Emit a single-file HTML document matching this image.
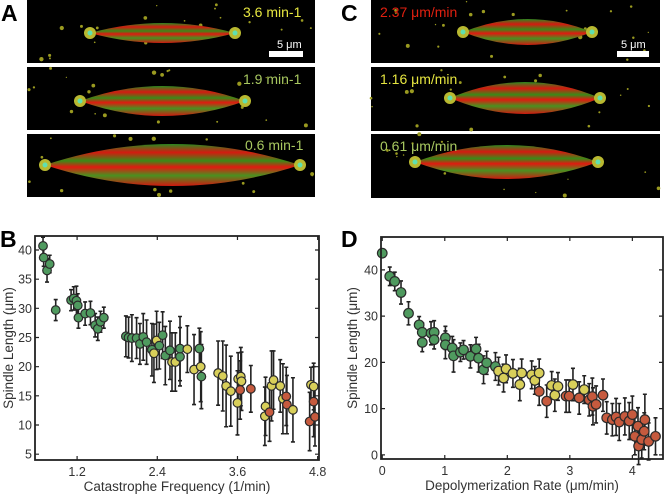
<!DOCTYPE html>
<html><head><meta charset="utf-8"><style>
body{margin:0;background:#fff;}
svg{display:block;font-family:"Liberation Sans",sans-serif;}
</style></head><body>
<svg id="fig" width="664" height="497" viewBox="0 0 664 497">
<defs>
<linearGradient id="sp" x1="0" y1="0" x2="0" y2="1">
<stop offset="0" stop-color="#2a8a20"/><stop offset="0.2" stop-color="#d41a10"/><stop offset="0.4" stop-color="#3a8a18"/><stop offset="0.55" stop-color="#e01a10"/><stop offset="0.75" stop-color="#4a9020"/><stop offset="1" stop-color="#d01810"/>
</linearGradient>
</defs>
<g>
<rect x="27" y="0" width="288" height="63" fill="#000"/>
<rect x="27" y="67" width="288" height="63" fill="#000"/>
<rect x="27" y="134" width="288" height="63" fill="#000"/>
</g>
<g>
<rect x="371" y="0" width="289" height="63" fill="#000"/>
<rect x="371" y="67" width="289" height="64" fill="#000"/>
<rect x="371" y="134" width="289" height="64" fill="#000"/>
</g>
<g id="specks"></g>
<g id="spindles"></g>
<g font-size="14">
<text x="243" y="17" fill="#e6e640">3.6 min-1</text>
<text x="243" y="84" fill="#a8c860">1.9 min-1</text>
<text x="245" y="150" fill="#a8c860">0.6 min-1</text>
<text x="380" y="17" fill="#e02010">2.37 μm/min</text>
<text x="380" y="84" fill="#e6e640">1.16 μm/min</text>
<text x="380" y="151" fill="#a8c860">0.61 μm/min</text>
<text x="277" y="48" fill="#fff" font-size="11">5 μm</text>
<rect x="269" y="51" width="34" height="6" fill="#fff"/>
<text x="621" y="48" fill="#fff" font-size="11">5 μm</text>
<rect x="617" y="51" width="32" height="6" fill="#fff"/>
</g>
<g font-weight="bold" font-size="23" fill="#000">
<text x="1" y="21">A</text>
<text x="341" y="21">C</text>
<text x="0" y="247">B</text>
<text x="341" y="247">D</text>
</g>
<g id="chartB"></g>
<g id="chartD"></g>
</svg>
<script>
// Panel B data
const bX=[0.69,0.70,0.75,0.79,0.88,1.11,1.15,1.19,1.21,1.22,1.32,1.40,1.47,1.51,1.55,1.60,1.93,1.97,2.02,2.09,2.14,2.19,2.24,2.32,2.35,2.39,2.43,2.48,2.52,2.59,2.62,2.67,2.74,2.74,2.85,2.95,3.03,3.05,3.06,3.31,3.38,3.43,3.50,3.60,3.61,3.64,3.65,3.66,3.80,4.01,4.02,4.08,4.11,4.14,4.24,4.28,4.33,4.34,4.43,4.68,4.70,4.74,4.74,4.76];
const bY=[40.7,38.7,36.5,37.6,29.7,31.4,31.7,31.3,30.5,28.4,29.1,29.2,27.1,26.5,27.7,28.4,25.2,25.0,24.9,24.9,23.9,25.1,24.2,22.9,22.3,24.5,23.6,25.4,21.9,22.8,20.8,20.8,21.7,23.1,23.0,19.5,23.1,20.0,18.3,18.9,18.4,16.7,15.8,13.8,17.9,16.0,18.3,17.5,16.2,11.5,13.2,12.2,16.7,17.7,16.7,14.5,14.9,13.5,12.6,10.6,16.9,16.6,14.0,11.4];
const bErr=[1.5,1.5,2,1.5,1.8,1.8,2,2.5,2,1.8,2,2,2,2,1.8,1.8,3.5,3.5,4,3.5,3.5,4,3.8,4.5,5,5,4,4,5,5,5,5,5,5.5,4,6,3.5,6,5.5,5.5,6,7,6,5.5,4.5,5,5,5,4,5,5,5,6,5,4.5,6,5,5,5.5,5,3,4,6,5];
const bC=["g","g","g","g","g","g","g","g","g","g","g","g","g","g","g","g","g","g","g","g","g","g","g","g","y","y","g","g","g","g","y","y","g","g","y","y","g","y","g","y","y","y","y","y","y","r","y","y","r","y","y","r","y","y","y","y","r","r","y","r","y","y","r","r"];
const bXTicks=[1.2,2.4,3.6,4.8];
const bYTicks=[5,10,15,20,25,30,35,40];
// Panel D data
const dX=[0,0.12,0.2,0.3,0.42,0.59,0.64,0.64,0.78,0.83,0.83,1.01,1.01,1.12,1.14,1.25,1.3,1.41,1.5,1.54,1.62,1.67,1.81,1.86,1.94,1.98,2.09,2.2,2.23,2.39,2.44,2.51,2.51,2.63,2.71,2.76,2.81,2.94,2.99,3.05,3.15,3.23,3.31,3.36,3.37,3.42,3.53,3.59,3.68,3.74,3.79,3.88,3.95,4.0,4.04,4.09,4.1,4.15,4.19,4.2,4.26,4.37];
const dY=[43.6,38.6,37.5,35.1,30.6,28.1,26.5,24.3,26.3,26.5,24.9,25.3,23.8,23.1,21.4,22.2,22.7,21.3,22.9,20.9,18.4,19.9,19.1,18.1,16.6,18.6,17.6,15.2,17.7,17.3,16.1,17.7,13.7,11.6,15.0,12.9,14.8,12.7,12.7,15.2,12.3,14.1,11.9,12.6,10.5,10.9,12.9,8.0,7.6,8.2,7.1,8.3,7.3,8.7,4.0,6.2,1.9,3.3,5.1,7.6,2.9,4.0];
const dErr=[0,2,2,2.5,2.5,1.8,2,2,2.5,2.5,2,2.5,3,2.5,3.5,2,2,2.5,2.5,3,3,2.5,3,3,3,3,3,3.5,3,3,3,3,3,3.5,3,3.5,3,3.5,3.5,3.5,3.5,3,3.5,4,4,4,3.5,3.5,3.5,4,4,4,4,4,4,4,4,4,4,5.5,4,4];
const dC=["g","g","g","g","g","g","g","g","g","g","g","g","g","g","g","g","g","g","g","g","g","g","g","y","y","y","y","y","y","y","y","y","r","r","y","y","y","r","r","y","r","y","r","r","r","r","r","r","r","r","r","r","r","r","r","r","r","r","r","r","r","r"];
const dXTicks=[0,1,2,3,4];
const dYTicks=[0,10,20,30,40];

const NS="http://www.w3.org/2000/svg";
const FILL={g:"#4f9a5f",y:"#d8cf5a",r:"#c65a3e"};
function mk(p,tag,a){const e=document.createElementNS(NS,tag);for(const k in a)e.setAttribute(k,a[k]);p.appendChild(e);return e;}

function chart(g,box,xd,yd,X,Y,E,C,xt,yt,xlab,ylab,r,ytx){
  const sx=v=>box.l+(v-xd[0])/(xd[1]-xd[0])*(box.r-box.l);
  const sy=v=>box.b-(v-yd[0])/(yd[1]-yd[0])*(box.b-box.t);
  for(let i=0;i<X.length;i++){
    const x=sx(X[i]);
    if(E[i]>0){
      const y1=sy(Y[i]+E[i]),y2=sy(Y[i]-E[i]);
      const eb=mk(g,"path",{d:`M${x},${y1}V${y2}M${x-2},${y1}H${x+2}M${x-2},${y2}H${x+2}`,stroke:"#222","stroke-width":1.6,fill:"none"});
      
      
    }
  }
  for(let i=0;i<X.length;i++){
    const c=mk(g,"circle",{cx:sx(X[i]),cy:sy(Y[i]),r:r,fill:FILL[C[i]],stroke:"#2a2a2a","stroke-width":1.2});
    
    
  }
  const fr=mk(g,"rect",{x:box.l,y:box.t,width:box.r-box.l,height:box.b-box.t,fill:"none",stroke:"#222","stroke-width":1.8});
  
  
  xt.forEach(v=>{
    const x=sx(v);
    mk(g,"path",{d:`M${x},${box.b}v-4M${x},${box.t}v4`,stroke:"#222","stroke-width":1.2});
    const t=mk(g,"text",{x:x,y:box.b+16,"text-anchor":"middle","font-size":12.5,fill:"#333"});
    t.textContent=v.toFixed(ytx?0:1);
    
    
  });
  yt.forEach(v=>{
    const y=sy(v);
    mk(g,"path",{d:`M${box.l},${y}h4M${box.r},${y}h-4`,stroke:"#222","stroke-width":1.2});
    const t=mk(g,"text",{x:box.l-3,y:y+4.5,"text-anchor":"end","font-size":12.5,fill:"#333"});
    t.textContent=v;
    
    
  });
  const xl=mk(g,"text",{x:(box.l+box.r)/2,y:box.b+31,"text-anchor":"middle","font-size":13.5,fill:"#333"});
  xl.textContent=xlab;
  
  
  const cy=(box.t+box.b)/2;
  const yl=mk(g,"text",{x:box.l-(ytx?24:22),y:cy,"text-anchor":"middle","font-size":13.5,fill:"#333",transform:`rotate(-90 ${box.l-(ytx?24:22)} ${cy})`});
  yl.textContent=ylab;
  
  
}
chart(document.getElementById("chartB"),{l:35,r:319,t:236,b:460},[0.57,4.82],[4,42.4],bX,bY,bErr,bC,bXTicks,bYTicks,"Catastrophe Frequency (1/min)","Spindle Length (μm)",4.3,false);
chart(document.getElementById("chartD"),{l:381,r:663,t:237,b:459},[-0.02,4.49],[-0.9,47.1],dX,dY,dErr,dC,dXTicks,dYTicks,"Depolymerization Rate (μm/min)","Spindle Length (μm)",4.8,true);

// decorative background specks (deterministic pseudo-random texture)
const kg=document.getElementById("specks");
let seed=7;function rnd(){seed=(seed*9301+49297)%233280;return seed/233280;}
const panels=[[27,0,288,63],[27,67,288,63],[27,134,288,63],[371,0,289,63],[371,67,289,64],[371,134,289,64]];
panels.forEach(p=>{
  for(let i=0;i<22;i++){
    const s=mk(kg,"circle",{cx:p[0]+rnd()*p[2],cy:p[1]+rnd()*p[3],r:0.6+rnd()*1.6,fill:"#9a9a20"});
    
    
  }
});

// spindle images
const sg=document.getElementById("spindles");
const sp=[[90,235,33,10],[80,245,101,15],[45,300,165,21],[463,592,32,13],[450,600,98,16],[415,598,162,17]];
sp.forEach(s=>{
  const [x1,x2,cy,h]=s;const m=(x1+x2)/2;
  const p=mk(sg,"path",{d:`M${x1},${cy}Q${m},${cy-2*h} ${x2},${cy}Q${m},${cy+2*h} ${x1},${cy}Z`,fill:"url(#sp)"});
  
  
  [x1,x2].forEach(x=>{
    const c=mk(sg,"circle",{cx:x,cy:cy,r:6,fill:"#b8b830"});
    
    
    mk(sg,"circle",{cx:x,cy:cy,r:2.5,fill:"#60e0b0"});
  });
});
</script>
</body></html>
